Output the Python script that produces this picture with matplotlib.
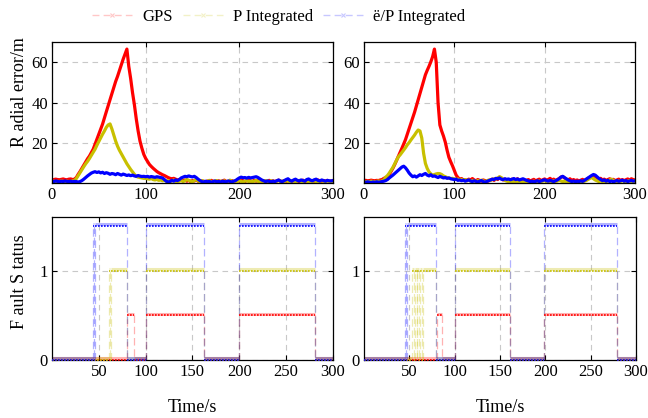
import numpy as np
import matplotlib
matplotlib.use("Agg")
import matplotlib.pyplot as plt
from matplotlib.lines import Line2D
from matplotlib.transforms import offset_copy

plt.rcParams['font.family'] = ['Liberation Serif', 'DejaVu Serif']

# sample times of the error curves (s)
t = np.arange(0, 301, 2)

# radial error, left run (m)
gps_a = [
    1.8, 2.0, 2.2, 2.0, 1.9, 2.1, 2.3, 2.0, 1.9, 2.2,
    2.3, 2.0, 2.2, 3.0, 4.6, 6.0, 7.6, 9.2, 10.8, 12.3,
    13.6, 15.3, 17.0, 19.5, 22.0, 24.5, 27.0, 29.4, 32.5, 35.5,
    38.5, 41.5, 44.5, 47.5, 50.5, 53.0, 55.8, 58.5, 61.5, 64.0,
    66.5, 58.0, 52.0, 45.0, 39.0, 32.0, 26.0, 21.0, 17.5, 14.5,
    12.5, 11.0, 9.5, 8.5, 7.6, 6.8, 6.0, 5.4, 4.9, 4.4,
    4.0, 3.5, 3.0, 2.6, 2.4, 2.6, 2.2, 1.8, 2.0, 1.6,
    1.4, 1.8, 1.2, 1.6, 1.0, 1.5, 1.3, 1.9, 1.2, 1.0,
    1.4, 1.1, 0.9, 1.3, 1.0, 1.6, 1.2, 0.8, 1.1, 1.4,
    1.0, 1.3, 1.7, 1.1, 0.9, 1.2, 1.5, 1.0, 1.3, 1.6,
    1.2, 1.8, 1.4, 1.0, 1.5, 1.9, 1.3, 1.1, 1.6, 1.2,
    1.8, 1.4, 1.0, 1.3, 0.9, 1.2, 1.6, 1.1, 1.4, 1.0,
    1.3, 1.7, 1.2, 0.9, 1.4, 1.1, 1.6, 1.3, 1.0, 1.5,
    1.8, 1.2, 1.0, 1.4, 1.7, 1.1, 1.3, 0.9, 1.5, 1.2,
    1.0, 1.4, 1.8, 1.3, 1.1, 1.5, 1.2, 1.6, 1.0, 1.3,
    1.4,
]
pint_a = [
    1.0, 1.2, 0.9, 1.1, 1.0, 1.3, 1.1, 0.9, 1.2, 1.0,
    1.1, 1.3, 1.5, 2.5, 4.0, 5.5, 7.0, 8.4, 9.8, 11.0,
    12.4, 14.0, 15.5, 17.0, 19.0, 20.8, 22.6, 24.4, 26.0, 27.8,
    29.0, 29.5, 27.0, 24.0, 21.0, 18.5, 16.5, 14.8, 13.0, 11.3,
    9.8, 8.4, 7.0, 5.8, 4.6, 3.6, 3.2, 3.0, 2.8, 2.6,
    2.6, 2.4, 2.2, 2.5, 2.0, 1.8, 2.1, 1.6, 1.8, 1.4,
    1.6, 1.2, 1.5, 1.0, 1.3, 1.8, 1.1, 0.8, 1.2, 1.5,
    1.0, 1.4, 2.0, 1.6, 1.2, 0.9, 1.5, 2.2, 1.3, 1.0,
    1.5, 1.2, 0.8, 1.1, 1.6, 1.0, 0.7, 1.3, 1.5, 0.9,
    1.2, 1.0, 1.4, 0.8, 1.1, 1.7, 1.2, 0.9, 1.3, 1.0,
    1.4, 1.1, 0.8, 1.2, 1.5, 1.0, 1.3, 0.9, 1.2, 1.6,
    1.1, 0.8, 1.3, 1.0, 1.5, 1.2, 0.9, 1.4, 1.1, 0.8,
    1.2, 1.5, 1.0, 1.3, 0.9, 1.6, 1.1, 0.8, 1.4, 1.2,
    0.9, 1.3, 1.6, 1.0, 0.8, 1.5, 1.2, 0.9, 1.3, 1.0,
    1.4, 0.9, 1.2, 1.0, 1.5, 1.1, 0.8, 1.3, 1.0, 1.2,
    1.1,
]
epint_a = [
    1.2, 1.0, 1.3, 1.1, 0.9, 1.2, 1.0, 1.3, 1.1, 1.0,
    1.2, 0.9, 1.1, 1.0, 0.8, 1.0, 1.5, 2.2, 3.0, 3.8,
    4.5, 5.2, 5.6, 5.9, 5.5, 5.8, 5.3, 5.6, 5.0, 5.4,
    5.1, 4.6, 5.0, 4.8, 4.4, 5.0, 4.6, 4.2, 4.7, 4.4,
    4.0, 4.3, 3.9, 4.2, 3.8, 3.6, 4.0, 3.7, 3.5, 3.6,
    3.4, 3.6, 3.2, 3.5, 3.3, 3.1, 3.4, 3.2, 3.0, 2.8,
    2.0, 1.2, 0.8, 1.0, 1.6, 1.2, 1.8, 1.5, 2.0, 2.8,
    3.2, 3.6, 3.4, 3.8, 3.5, 3.3, 3.6, 3.0, 2.2, 1.5,
    1.0, 0.8, 1.2, 0.9, 1.1, 0.7, 1.0, 1.3, 0.9, 1.1,
    0.8, 1.2, 1.0, 0.9, 1.3, 1.1, 0.8, 1.2, 1.5, 2.2,
    2.8, 3.2, 2.9, 3.0, 2.7, 3.1, 2.8, 3.0, 3.2, 3.4,
    3.0, 2.4, 1.8, 1.4, 1.0, 1.3, 1.1, 0.9, 1.2, 1.0,
    1.4, 1.8, 1.2, 1.0, 1.5, 2.0, 2.4, 1.6, 1.2, 1.8,
    2.2, 1.6, 1.3, 1.8, 1.5, 1.2, 2.0, 2.3, 1.7, 1.4,
    1.9, 2.2, 1.6, 1.3, 1.8, 1.5, 1.2, 1.6, 1.4, 1.3,
    1.5,
]

# radial error, right run (m)
gps_b = [
    1.5, 1.6, 1.4, 1.5, 1.7, 1.5, 1.4, 1.6, 1.5, 1.8,
    2.0, 2.6, 3.0, 3.2, 4.5, 6.0, 7.6, 9.4, 11.4, 13.4,
    15.5, 17.5, 19.6, 21.8, 24.5, 27.2, 29.9, 32.6, 35.3, 38.4,
    41.5, 44.6, 47.7, 50.8, 53.8, 56.0, 58.0, 60.2, 62.8, 66.5,
    60.0, 40.0, 29.0, 26.0, 23.5, 20.5, 16.5, 13.0, 10.8, 8.8,
    6.5, 4.2, 3.0, 2.2, 2.5, 1.8, 2.0, 1.5, 2.2, 1.8,
    2.5, 1.8, 1.4, 2.0, 1.6, 1.2, 1.8, 1.5, 1.0, 1.4,
    1.8, 2.2, 1.6, 2.4, 2.0, 3.2, 2.6, 1.8, 2.2, 1.6,
    1.4, 1.8, 2.2, 1.6, 1.9, 2.4, 1.5, 1.2, 1.8, 1.4,
    1.6, 2.0, 1.3, 1.7, 2.1, 1.4, 1.8, 2.2, 1.5, 1.9,
    2.3, 1.7, 2.0, 2.6, 1.8, 2.2, 1.6, 2.0, 2.5, 3.2,
    3.5, 2.8, 2.2, 1.8, 2.4, 1.6, 2.0, 1.5, 1.8, 1.3,
    1.7, 2.1, 1.5, 2.0, 2.6, 3.0, 3.6, 4.0, 3.5, 2.8,
    2.2, 2.6, 1.8, 2.2, 1.6, 2.0, 2.4, 1.7, 2.1, 1.5,
    1.8, 2.2, 1.6, 2.0, 1.5, 1.9, 2.3, 1.7, 2.4, 2.0,
    1.8,
]
pint_b = [
    1.0, 0.8, 1.1, 0.9, 1.2, 1.0, 0.8, 1.1, 1.3, 1.0,
    1.4, 1.8, 3.2, 4.0, 5.2, 6.6, 8.0, 9.8, 11.5, 13.2,
    14.2, 15.4, 16.6, 17.8, 19.2, 20.3, 21.6, 22.8, 24.0, 25.4,
    26.5, 26.0, 22.5, 15.0, 10.0, 7.5, 5.8, 4.8, 4.2, 4.5,
    4.8, 5.0, 4.9, 4.5, 3.8, 3.4, 3.0, 2.8, 2.5, 2.6,
    2.4, 2.0, 2.3, 1.8, 2.1, 1.6, 2.0, 1.4, 1.8, 1.2,
    1.6, 1.3, 1.0, 1.5, 1.2, 1.7, 1.4, 1.0, 1.3, 1.8,
    1.5, 2.0, 2.4, 2.2, 2.8, 3.4, 3.0, 2.2, 1.6, 1.2,
    1.0, 0.8, 1.2, 0.6, 0.9, 0.7, 1.0, 0.5, 0.8, 1.1,
    0.7, 1.0, 0.6, 0.9, 1.2, 0.8, 1.0, 1.3, 0.9, 1.2,
    1.5, 1.0, 1.3, 0.9, 1.1, 1.4, 1.0, 1.2, 1.6, 1.3,
    1.0, 1.2, 0.8, 1.1, 0.7, 1.0, 0.9, 0.6, 1.0, 0.8,
    1.1, 0.8, 1.2, 1.5, 2.0, 2.6, 3.0, 2.4, 1.8, 1.4,
    1.0, 1.3, 0.9, 1.2, 0.8, 1.4, 1.8, 2.2, 1.6, 1.2,
    0.9, 1.3, 1.0, 1.4, 1.1, 0.8, 1.2, 1.5, 1.0, 1.3,
    1.1,
]
epint_b = [
    0.8, 0.6, 0.9, 0.7, 0.5, 0.8, 0.6, 0.9, 0.7, 0.8,
    1.0, 1.2, 1.5, 2.0, 2.8, 3.5, 4.2, 5.0, 5.8, 6.6,
    7.4, 8.2, 8.6, 7.8, 6.6, 5.2, 4.2, 3.4, 3.8, 3.2,
    3.8, 4.4, 4.0, 4.6, 5.0, 4.2, 3.8, 4.4, 3.6, 3.8,
    3.4, 3.0, 3.6, 3.2, 2.8, 3.0, 2.6, 2.8, 2.4, 2.2,
    2.0, 2.2, 1.6, 1.8, 1.4, 1.7, 1.2, 1.5, 1.8, 1.3,
    1.0, 1.4, 1.1, 0.8, 1.2, 1.5, 1.0, 0.7, 1.1, 1.4,
    1.8, 2.2, 2.0, 2.6, 2.4, 2.8, 2.2, 2.0, 2.4, 2.1,
    2.3, 1.9, 2.2, 2.5, 2.0, 2.3, 1.8, 2.1, 2.4, 2.0,
    1.6, 1.3, 1.0, 1.2, 0.9, 1.1, 1.4, 1.0, 1.3, 1.6,
    1.9, 1.5, 1.2, 1.6, 1.3, 1.0, 1.4, 1.8, 2.4, 3.2,
    3.6, 3.0, 2.4, 1.8, 1.4, 1.0, 1.3, 0.9, 1.2, 1.0,
    1.4, 1.1, 1.6, 2.2, 2.8, 3.4, 4.0, 4.5, 4.2, 3.4,
    2.6, 2.0, 1.5, 1.8, 1.2, 1.6, 1.0, 1.3, 0.9, 1.2,
    1.5, 1.1, 1.4, 1.7, 1.2, 1.5, 1.0, 1.3, 1.6, 1.2,
    1.4,
]

# fault status as step changes: switch times (s) and level held after each
gps_st_a_t = [0, 80, 88, 100, 162, 200, 281, 300]
gps_st_a = [0, 0.5, 0, 0.5, 0, 0.5, 0, 0]
pint_st_a_t = [0, 61, 62, 63, 80.5, 100, 162, 200, 281, 300]
pint_st_a = [0, 1, 0, 1, 0, 1, 0, 1, 0, 0]
epint_st_a_t = [0, 44, 45, 46, 80.5, 100, 162, 200, 281, 300]
epint_st_a = [0, 1.5, 0, 1.5, 0, 1.5, 0, 1.5, 0, 0]

gps_st_b_t = [0, 80, 85.5, 100, 161, 199, 279, 300]
gps_st_b = [0, 0.5, 0, 0.5, 0, 0.5, 0, 0]
pint_st_b_t = [0, 53, 55, 56, 58, 59, 61, 62, 64, 65, 79, 100, 161, 199, 279, 300]
pint_st_b = [0, 1, 0, 1, 0, 1, 0, 1, 0, 1, 0, 1, 0, 1, 0, 0]
epint_st_b_t = [0, 45, 46, 47, 79, 100, 161, 199, 279, 300]
epint_st_b = [0, 1.5, 0, 1.5, 0, 1.5, 0, 1.5, 0, 0]

names = ['GPS', 'P Integrated', 'ë/P Integrated']
colors = ['#ff0000', '#c8c000', '#0000ff']

fig = plt.figure(figsize=(6.48, 4.18), dpi=100)

ax_err_a = fig.add_axes([0.0802, 0.5622, 0.4336, 0.3373])
ax_err_b = fig.add_axes([0.5617, 0.5622, 0.4182, 0.3373])
ax_st_a = fig.add_axes([0.0802, 0.1388, 0.4336, 0.3421])
ax_st_b = fig.add_axes([0.5617, 0.1388, 0.4198, 0.3421])


def style(ax):
    ax.tick_params(direction='in', top=True, right=True, length=3.5,
                   width=0.8, labelsize=12, pad=3)
    ax.grid(True, color='#c8c8c8', linestyle=(0, (5, 4)), linewidth=0.8)
    for sp in ax.spines.values():
        sp.set_linewidth(0.9)
    ax.set_axisbelow(True)


def draw_error(ax, series):
    for y, c in zip(series, colors):
        ax.plot(t, y, color=c, lw=2.3, solid_joinstyle='round')
    ax.set_xlim(0, 300)
    ax.set_ylim(0.3, 70)
    ax.set_xticks([0, 100, 200, 300])
    ax.set_yticks([20, 40, 60])
    style(ax)


def draw_status(ax, steps):
    band = offset_copy(ax.transData, fig=fig, x=0, y=1.1, units='points')
    for (times, lv), c in zip(steps, colors):
        starts, ends, levels = times[:-1], times[1:], lv[:-1]
        # faint dashed risers between levels
        for i in range(1, len(times) - 1):
            if lv[i] != lv[i - 1]:
                ax.vlines(times[i], lv[i - 1], lv[i], colors=c, alpha=0.3,
                          linestyles=(0, (6, 3)), lw=0.9)
        ax.hlines(levels, starts, ends, colors=c, alpha=0.3, lw=2.2,
                  transform=band, clip_on=False)
        ax.hlines(levels, starts, ends, colors=c, lw=1.2, zorder=3,
                  linestyles=(0, (1, 0.8)), clip_on=False)
    ax.set_xlim(0, 300)
    ax.set_ylim(0, 1.6)
    ax.set_xticks([50, 100, 150, 200, 250, 300])
    ax.set_yticks([0, 1])
    style(ax)


draw_error(ax_err_a, [gps_a, pint_a, epint_a])
draw_error(ax_err_b, [gps_b, pint_b, epint_b])
draw_status(ax_st_a, [(gps_st_a_t, gps_st_a), (pint_st_a_t, pint_st_a),
                      (epint_st_a_t, epint_st_a)])
draw_status(ax_st_b, [(gps_st_b_t, gps_st_b), (pint_st_b_t, pint_st_b),
                      (epint_st_b_t, epint_st_b)])

ax_err_a.set_ylabel('R adial error/m', fontsize=13, va='center')
ax_err_a.yaxis.set_label_coords(-0.115, 0.645)
ax_st_a.set_ylabel('F ault S tatus', fontsize=13, va='center')
ax_st_a.yaxis.set_label_coords(-0.115, 0.545)
for ax in (ax_st_a, ax_st_b):
    ax.set_xlabel('Time/s', fontsize=13, va='center')
    ax.xaxis.set_label_coords(0.5, -0.335)

handles = [Line2D([], [], color=c, alpha=0.22, ls=(0, (5, 3)), lw=1.0,
                  marker='x', ms=3, mec=c, mew=0.8) for c in colors]
for h, c in zip(handles, colors):
    h.set_markeredgecolor(c)
fig.legend(handles, names, loc='center', bbox_to_anchor=(0.43, 0.959),
           ncol=3, frameon=False, fontsize=12, handlelength=2.4,
           handletextpad=0.6, columnspacing=0.6)

fig.savefig('out.png', dpi=100)
